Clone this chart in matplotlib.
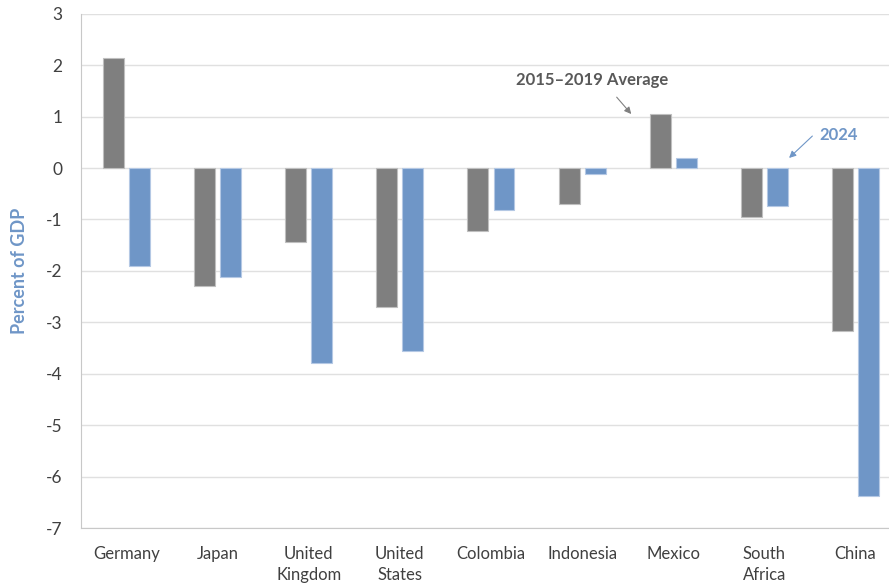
import matplotlib.pyplot as plt
import numpy as np

plt.rcParams['font.family'] = ['Lato', 'DejaVu Sans']

# Datos
countries = ['Germany', 'Japan', 'United\nKingdom', 'United\nStates', 'Colombia',
             'Indonesia', 'Mexico', 'South\nAfrica', 'China']
avg_2015_2019 = [2.14, -2.30, -1.44, -2.70, -1.23, -0.70, 1.05, -0.95, -3.17]
val_2024 = [-1.91, -2.12, -3.79, -3.56, -0.82, -0.12, 0.19, -0.74, -6.38]
yticks = list(range(-7, 4))

gray = '#7f7f7f'
blue = '#6f96c7'

fig = plt.figure(figsize=(8.89, 5.83), dpi=100)
ax = fig.add_axes([0.0911, 0.0943, 0.909, 0.882])

x = np.arange(len(countries))
ax.bar(x - 0.143, avg_2015_2019, width=0.23, color=gray, edgecolor='#bfbfbf', linewidth=0.8, zorder=3)
ax.bar(x + 0.143, val_2024, width=0.23, color=blue, edgecolor='#b4c8e4', linewidth=0.8, zorder=3)

ax.set_xlim(-0.5, 8.37)
ax.set_ylim(-7, 3)
ax.set_yticks(yticks)
ax.set_yticklabels([str(t) for t in yticks])
ax.set_xticks(x)
ax.set_xticklabels(countries, linespacing=1.35)
ax.tick_params(axis='both', length=0, colors='#404040')
ax.tick_params(axis='y', pad=13.5, labelsize=12.5)
ax.tick_params(axis='x', pad=13, labelsize=12)
ax.yaxis.grid(True, color='#e0e0e0', linewidth=1, zorder=0)

for s in ['top', 'right']:
    ax.spines[s].set_visible(False)
ax.spines['left'].set_color('#c8c8c8')
ax.spines['bottom'].set_color('#c8c8c8')

ax.set_ylabel('Percent of GDP', color=blue, fontsize=13, fontweight='bold', labelpad=13)

# Anotaciones
ax.annotate('', xy=(5.56, 1.01), xytext=(5.36, 1.42),
            arrowprops=dict(arrowstyle='-|>', color='#808080', lw=0.8, mutation_scale=10))
ax.text(5.11, 1.71, '2015\u20132019 Average', ha='center', va='center',
        fontsize=12, fontweight='bold', color='#595959')
ax.annotate('', xy=(7.25, 0.16), xytext=(7.55, 0.66),
            arrowprops=dict(arrowstyle='-|>', color=blue, lw=0.8, mutation_scale=10))
ax.text(7.82, 0.64, '2024', ha='center', va='center',
        fontsize=12, fontweight='bold', color=blue)

fig.savefig('out.png', dpi=100)
